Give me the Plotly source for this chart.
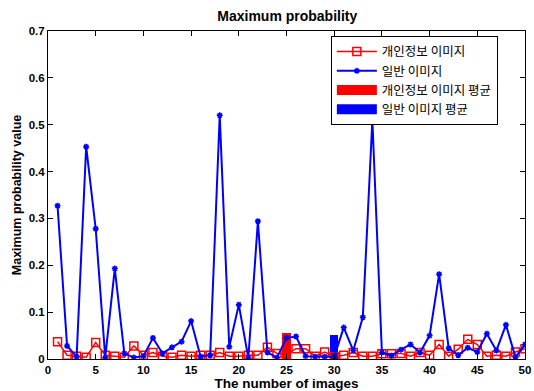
import plotly.graph_objects as go

x = list(range(1, 51))
private_vals = [0.037, 0.008, 0.006, 0.004, 0.035, 0.008, 0.006, 0.004, 0.028, 0.008,
                0.014, 0.006, 0.004, 0.008, 0.006, 0.008, 0.008, 0.014, 0.006, 0.006,
                0.008, 0.008, 0.025, 0.012, 0.010, 0.022, 0.022, 0.006, 0.015, 0.005,
                0.008, 0.014, 0.006, 0.006, 0.011, 0.011, 0.012, 0.006, 0.014, 0.008,
                0.031, 0.006, 0.021, 0.042, 0.031, 0.006, 0.008, 0.006, 0.015, 0.022]
normal_vals = [0.327, 0.028, 0.005, 0.453, 0.278, 0.003, 0.193, 0.012, 0.003, 0.006,
               0.045, 0.012, 0.025, 0.037, 0.081, 0.005, 0.008, 0.520, 0.026, 0.116,
               0.002, 0.294, 0.014, 0.003, 0.045, 0.048, 0.006, 0.005, 0.005, 0.005,
               0.067, 0.018, 0.089, 0.510, 0.014, 0.007, 0.020, 0.031, 0.014, 0.050,
               0.181, 0.023, 0.008, 0.024, 0.015, 0.054, 0.018, 0.073, 0.004, 0.031]
mean_x = [25, 30]
mean_vals = [0.055, 0.052]

kfont = "Noto Sans CJK KR"
afont = "Liberation Sans"

fig = go.Figure()
fig.add_trace(go.Scatter(
    x=x, y=private_vals, mode="lines+markers", name="개인정보 이미지",
    line=dict(color="#ff0000", width=1.5),
    marker=dict(symbol="square-open", size=8, color="#ff0000", line=dict(width=1.5)),
))
fig.add_trace(go.Scatter(
    x=x, y=normal_vals, mode="lines+markers", name="일반 이미지",
    line=dict(color="#0000ff", width=2),
    marker=dict(symbol="asterisk-open", size=5, color="#0000ff", line=dict(width=1.5, color="#0000ff")),
))
fig.add_trace(go.Bar(x=[mean_x[0]], y=[mean_vals[0]], width=0.9, name="개인정보 이미지 평균",
                     legendgroup="pm", showlegend=False,
                     marker=dict(color="#ff0000", line=dict(width=0))))
fig.add_trace(go.Bar(x=[mean_x[1]], y=[mean_vals[1]], width=0.9, name="일반 이미지 평균",
                     legendgroup="nm", showlegend=False,
                     marker=dict(color="#0000ff", line=dict(width=0))))
# legend swatches for the mean bars (wide filled rectangles as in the original)
fig.add_trace(go.Scatter(x=[None], y=[None], mode="lines", name="개인정보 이미지 평균",
                         legendgroup="pm", line=dict(color="#ff0000", width=12)))
fig.add_trace(go.Scatter(x=[None], y=[None], mode="lines", name="일반 이미지 평균",
                         legendgroup="nm", line=dict(color="#0000ff", width=12)))

axis_common = dict(
    showgrid=False, zeroline=False, showline=True, linecolor="#000000", linewidth=1,
    mirror="allticks", ticks="inside", ticklen=5, tickcolor="#000000",
    tickfont=dict(family=afont, size=11.5, color="#000000", weight="bold"),
)
fig.update_xaxes(range=[0, 50], tickvals=list(range(0, 51, 5)), ticklabeloverflow="allow", **axis_common,
                 title=dict(text="The number of images", standoff=3,
                            font=dict(family=afont, size=13.5, color="#000000", weight="bold")))
fig.update_yaxes(range=[0, 0.7], tickvals=[0, 0.1, 0.2, 0.3, 0.4, 0.5, 0.6, 0.7],
                 ticktext=["0", "0.1", "0.2", "0.3", "0.4", "0.5", "0.6", "0.7"], **axis_common,
                 title=dict(text="Maximum probability value", standoff=4,
                            font=dict(family=afont, size=12.5, color="#000000", weight="bold")))

fig.update_layout(
    width=534, height=391,
    margin=dict(l=48, r=3, t=31, b=29),
    paper_bgcolor="white", plot_bgcolor="white",
    title=dict(text="Maximum probability", x=0.538, xanchor="center", y=0.958, yanchor="middle",
               font=dict(family=afont, size=14, color="#000000", weight="bold")),
    legend=dict(x=0.593, y=0.985, xanchor="left", yanchor="top",
                bgcolor="white", bordercolor="#000000", borderwidth=1,
                font=dict(family=kfont, size=12.5, color="#000000"),
                tracegroupgap=0, traceorder="normal", itemwidth=40),
    bargap=0,
    showlegend=True,
)

fig.write_html("out.html")
